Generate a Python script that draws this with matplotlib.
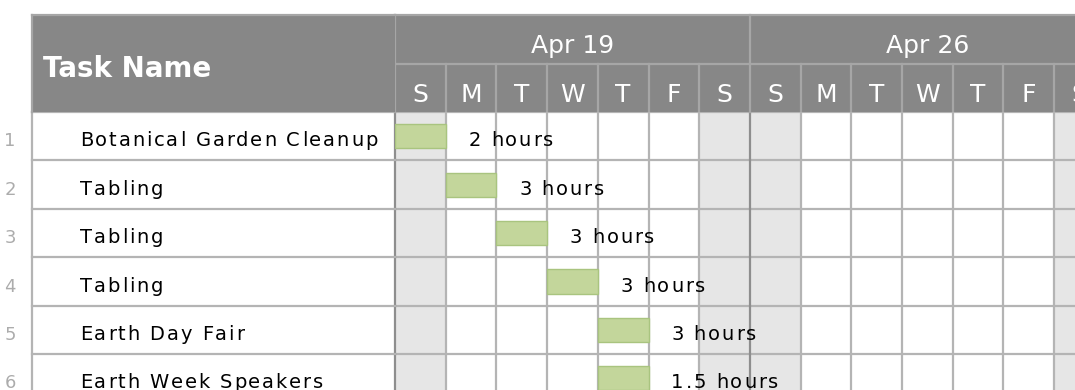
import matplotlib
matplotlib.use("Agg")
import matplotlib.pyplot as plt
import numpy as np
from matplotlib.font_manager import FontProperties, findfont, get_font
from matplotlib.transforms import offset_copy

# data ---------------------------------------------------------------
task_names = ["Botanical Garden Cleanup", "Tabling", "Tabling", "Tabling",
              "Earth Day Fair", "Earth Week Speakers"]
start_day = [0, 1, 2, 3, 4, 4]        # days after Sun Apr 19
duration = [1, 1, 1, 1, 1, 1]         # days
work = ["2 hours", "3 hours", "3 hours", "3 hours", "3 hours", "1.5 hours"]
week_labels = ["Apr 19", "Apr 26"]
day_letters = ["S", "M", "T", "W", "T", "F", "S"]

# layout (pixels) ----------------------------------------------------
W, H = 1075, 390
DAY, ROW = 50.7, 48.4
X0, TOP, HEAD, LEFT = 395, 15, 112, 32

HDR = "#878787"
HDR_LINE = "#a6a6a6"
GRID = "#b4b4b4"
WEEK_LINE = "#8e8e8e"
WEEKEND = "#e6e6e6"

fig = plt.figure(figsize=(W / 100, H / 100), dpi=100)


def box(x, y, w, h):
    # pixel box measured from the top-left -> figure fractions
    return [x / W, 1 - (y + h) / H, w / W, h / H]


def tracked(ax, x, y, s, size=14, track=1.35, **kw):
    # text with a little extra letter spacing, like the original pixel font
    fp = FontProperties(family="DejaVu Sans", size=size)
    font = get_font(findfont(fp))
    font.set_size(size, 72)
    pos = 0.0
    for ch in s:
        tr = offset_copy(ax.transData, fig=ax.figure, x=pos, y=0, units="points")
        ax.text(x, y, ch, transform=tr, fontproperties=fp,
                ha="left", va="baseline", **kw)
        pos += font.load_char(ord(ch)).linearHoriAdvance / 65536 + track


ax = fig.add_axes(box(X0, HEAD, W - X0, H - HEAD))
ax_t = fig.add_axes(box(LEFT, HEAD, X0 - LEFT, H - HEAD))
ax_h = fig.add_axes(box(X0, TOP, W - X0, HEAD - TOP))
ax_hl = fig.add_axes(box(LEFT, TOP, X0 - LEFT, HEAD - TOP))
for a in (ax, ax_t, ax_h, ax_hl):
    a.set_axis_off()

n_days = int((W - X0) / DAY) + 1
n_rows = len(task_names)
rows = np.arange(n_rows)

# gantt body ---------------------------------------------------------
ax.set_xlim(0, (W - X0) / DAY)
ax.set_ylim((H - HEAD) / ROW, 0)
for d in range(n_days):
    if d % 7 in (0, 6):
        ax.axvspan(d, d + 1, color=WEEKEND, lw=0, zorder=0)
for r in range(n_rows + 1):
    ax.axhline(r, color=GRID, lw=1.6, zorder=1, clip_on=False)
for d in range(n_days + 1):
    ax.axvline(d, color=WEEK_LINE if d % 7 == 0 else GRID, lw=1.6, zorder=2,
               clip_on=False)

ax.barh(rows + 0.5, duration, left=start_day, height=0.5,
        color="#c3d69b", edgecolor="#a9c47f", lw=1, zorder=3)
for i in rows:
    tracked(ax, start_day[i] + duration[i] + 0.45, i + 0.71, work[i],
            color="black", zorder=4)

# task name column ---------------------------------------------------
ax_t.set_xlim(0, X0 - LEFT)
ax_t.set_ylim((H - HEAD) / ROW, 0)
ax_t.axvline(0, color=GRID, lw=1.6, clip_on=False)
for r in range(n_rows + 1):
    ax_t.axhline(r, color=GRID, lw=1.6, clip_on=False)
for i in rows:
    tracked(ax_t, 48, i + 0.71, task_names[i], color="black")
    ax_t.text(-22, i + 0.71, str(i + 1), ha="center", va="baseline",
              fontsize=13, color="#acacac", clip_on=False)

# timeline header ----------------------------------------------------
ax_h.set_xlim(0, (W - X0) / DAY)
ax_h.set_ylim(2, 0)
ax_h.axhspan(0, 2, color=HDR, lw=0, zorder=0)
ax_h.axhline(0, color=HDR_LINE, lw=1.6, clip_on=False)
ax_h.axhline(1, color=HDR_LINE, lw=1.6)
for d in range(n_days + 1):
    if d % 7 == 0:
        ax_h.plot([d, d], [0, 2], color=HDR_LINE, lw=1.6, clip_on=False)
    else:
        ax_h.plot([d, d], [1, 2], color=HDR_LINE, lw=1.6)
for w, lab in enumerate(week_labels):
    ax_h.text(w * 7 + 3.5, 0.79, lab, ha="center", va="baseline",
              fontsize=18, color="white")
for d in range(n_days):
    ax_h.text(d + 0.5, 1.79, day_letters[d % 7], ha="center", va="baseline",
              fontsize=18, color="white", clip_on=True)

# task name header ---------------------------------------------------
ax_hl.set_xlim(0, X0 - LEFT)
ax_hl.set_ylim(HEAD - TOP, 0)
ax_hl.axhspan(0, HEAD - TOP, color=HDR, lw=0, zorder=0)
ax_hl.axhline(0, color=HDR_LINE, lw=1.6, clip_on=False)
ax_hl.axvline(0, color=HDR_LINE, lw=1.6, clip_on=False)
ax_hl.text(11, 62, "Task Name", ha="left", va="baseline", fontsize=20,
           fontweight="bold", color="white")

fig.savefig("out.png", dpi=100)
